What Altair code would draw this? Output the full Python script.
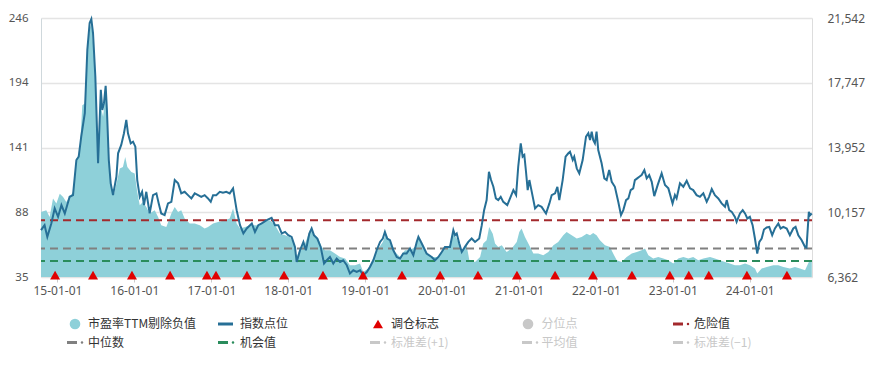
import altair as alt
import pandas as pd

# ---------------- data ----------------
idx_dates = [
    "2014-10-15", "2014-11-01", "2014-11-14", "2014-12-03", "2014-12-19", "2015-01-04", "2015-01-20",
    "2015-02-05", "2015-02-28", "2015-03-16", "2015-04-01", "2015-04-12", "2015-04-24", "2015-05-11",
    "2015-05-23", "2015-06-03", "2015-06-11", "2015-06-19", "2015-06-30", "2015-07-13", "2015-07-26",
    "2015-08-02", "2015-08-10", "2015-08-18", "2015-08-24", "2015-09-02", "2015-09-11", "2015-09-22",
    "2015-10-08", "2015-10-16", "2015-10-31", "2015-11-13", "2015-11-24", "2015-12-02", "2015-12-15",
    "2015-12-26", "2016-01-06", "2016-01-15", "2016-01-27", "2016-02-07", "2016-02-16", "2016-02-27",
    "2016-03-14", "2016-03-30", "2016-04-15", "2016-04-26", "2016-05-08", "2016-05-24", "2016-06-09",
    "2016-06-25", "2016-07-11", "2016-07-27", "2016-08-11", "2016-08-27", "2016-09-12", "2016-09-28",
    "2016-10-14", "2016-10-30", "2016-11-14", "2016-11-30", "2016-12-16", "2016-12-29", "2017-01-09",
    "2017-01-24", "2017-02-10", "2017-02-25", "2017-03-13", "2017-03-29", "2017-04-14", "2017-05-01",
    "2017-05-17", "2017-06-02", "2017-06-18", "2017-07-12", "2017-07-27", "2017-08-12", "2017-08-28",
    "2017-09-21", "2017-10-14", "2017-10-30", "2017-11-15", "2017-12-01", "2017-12-17", "2018-01-01",
    "2018-01-17", "2018-02-02", "2018-02-10", "2018-02-26", "2018-03-14", "2018-03-26", "2018-04-11",
    "2018-04-22", "2018-05-03", "2018-05-19", "2018-06-04", "2018-06-20", "2018-07-03", "2018-07-18",
    "2018-08-03", "2018-08-19", "2018-09-04", "2018-09-19", "2018-10-06", "2018-10-21", "2018-11-06",
    "2018-11-22", "2018-12-08", "2018-12-23", "2019-01-09", "2019-01-24", "2019-02-09", "2019-02-25",
    "2019-03-13", "2019-03-26", "2019-04-05", "2019-04-16", "2019-04-29", "2019-05-15", "2019-05-31",
    "2019-06-16", "2019-07-01", "2019-07-17", "2019-08-02", "2019-08-18", "2019-09-03", "2019-09-11",
    "2019-09-27", "2019-10-20", "2019-11-13", "2019-11-29", "2019-12-15", "2019-12-31", "2020-01-15",
    "2020-02-08", "2020-02-24", "2020-03-03", "2020-03-11", "2020-03-23", "2020-04-04", "2020-04-19",
    "2020-05-05", "2020-05-21", "2020-06-06", "2020-06-26", "2020-07-08", "2020-07-19", "2020-07-31",
    "2020-08-11", "2020-08-21", "2020-09-01", "2020-09-13", "2020-09-24", "2020-10-06", "2020-10-18",
    "2020-11-06", "2020-11-22", "2020-12-05", "2020-12-18", "2020-12-28", "2021-01-09", "2021-01-18",
    "2021-01-26", "2021-02-03", "2021-02-11", "2021-02-19", "2021-02-27", "2021-03-18", "2021-04-02",
    "2021-04-18", "2021-05-09", "2021-05-25", "2021-06-05", "2021-06-21", "2021-07-02", "2021-07-11",
    "2021-07-27", "2021-08-10", "2021-08-23", "2021-08-31", "2021-09-13", "2021-09-20", "2021-10-02",
    "2021-10-14", "2021-10-30", "2021-11-15", "2021-11-26", "2021-12-04", "2021-12-12", "2021-12-19",
    "2021-12-27", "2022-01-04", "2022-01-12", "2022-01-28", "2022-02-10", "2022-02-21", "2022-03-05",
    "2022-03-17", "2022-04-01", "2022-04-17", "2022-04-30", "2022-05-11", "2022-05-24", "2022-06-04",
    "2022-06-15", "2022-06-27", "2022-07-05", "2022-07-16", "2022-07-26", "2022-08-06", "2022-08-19",
    "2022-08-30", "2022-09-11", "2022-09-23", "2022-10-05", "2022-10-21", "2022-11-09", "2022-11-25",
    "2022-12-11", "2022-12-31", "2023-01-11", "2023-01-19", "2023-02-04", "2023-02-20", "2023-03-08",
    "2023-03-24", "2023-04-08", "2023-04-24", "2023-05-10", "2023-05-26", "2023-06-11", "2023-06-22",
    "2023-07-05", "2023-07-20", "2023-08-05", "2023-08-21", "2023-09-06", "2023-09-14", "2023-09-26",
    "2023-10-08", "2023-10-23", "2023-10-31", "2023-11-16", "2023-11-29", "2023-12-10", "2023-12-21",
    "2024-01-02", "2024-01-15", "2024-01-26", "2024-02-06", "2024-02-16", "2024-02-27", "2024-03-09",
    "2024-03-22", "2024-04-03", "2024-04-17", "2024-04-30", "2024-05-16", "2024-05-27", "2024-06-09",
    "2024-06-25", "2024-07-10", "2024-07-26", "2024-08-06", "2024-08-19", "2024-09-04", "2024-09-20",
    "2024-09-27", "2024-10-08", "2024-10-14", "2024-10-22",
]
idx_values = [
    9106, 9400, 8712, 9500, 10380, 9890, 10575,
    10087, 11062, 11160, 13218, 13412, 14587, 15962,
    19680, 21250, 21480, 20660, 18112, 13024, 17330,
    16155, 16550, 17565, 16155, 13218, 11850, 11160,
    12237, 13611, 14100, 14787, 15568, 14787, 14200,
    14293, 14000, 12043, 11062, 11356, 10575, 11356,
    10087, 11160, 11262, 10674, 10087, 9988, 10674,
    10768, 12043, 11850, 11262, 11356, 11160, 10967,
    11262, 11160, 11062, 11160, 10967, 10768, 11160,
    11160, 11356, 11297, 11356, 11262, 11556, 10280,
    9400, 8912, 9205, 9500, 9006, 9400, 9500,
    9693, 9828, 9400, 9400, 8912, 9006, 8812,
    8712, 8125, 7243, 7930, 8418, 7930, 8912,
    9205, 8812, 8618, 8125, 7149, 7343, 7537,
    7149, 7443, 7243, 7343, 7049, 6562, 6755,
    6656, 6755, 6462, 6656, 6950, 7343, 7930,
    8418, 8618, 9006, 8618, 8518, 7930, 7537,
    7443, 7737, 7737, 8030, 7637, 8418, 8712,
    8324, 7737, 7537, 7343, 7537, 7831, 8125,
    8125, 9106, 8812, 8912, 8324, 7831, 8125,
    8418, 8618, 8418, 8618, 9400, 10281, 10868,
    12531, 12043, 11650, 10968, 10868, 11062, 10768,
    10574, 11062, 11456, 11162, 12825, 14199, 13412,
    13512, 12531, 11456, 12043, 11556, 10380, 10574,
    10475, 10087, 10674, 11162, 11262, 11650, 10868,
    12043, 13412, 13612, 13706, 13218, 13412, 12731,
    12437, 13218, 14587, 14787, 14393, 14881, 14393,
    14199, 14881, 13806, 13024, 12143, 12043, 12631,
    11943, 11650, 10768, 9987, 10281, 10868, 10968,
    11456, 11556, 12043, 12143, 12237, 12337, 12631,
    12143, 12337, 11943, 11103, 11749, 12437, 11749,
    11556, 10674, 11162, 10968, 11850, 11650, 12002,
    11556, 11456, 11162, 11062, 11262, 10768, 11062,
    11515, 11162, 10968, 10674, 10475, 10868, 10281,
    10181, 9887, 9593, 10087, 10281, 10087, 9793,
    9887, 9400, 8618, 7737, 8418, 8618, 9147,
    9264, 9300, 8812, 9206, 9499, 9206, 9300,
    9206, 8812, 9206, 9300, 8812, 8518, 8125,
    8089, 10181, 9987, 10087,
]

pe_dates = [
    "2014-10-15", "2014-11-09", "2014-11-25", "2014-12-11", "2014-12-27", "2015-01-12", "2015-01-28",
    "2015-02-12", "2015-02-28", "2015-03-16", "2015-04-01", "2015-04-17", "2015-04-29", "2015-05-11",
    "2015-05-23", "2015-06-03", "2015-06-11", "2015-06-22", "2015-07-05", "2015-07-13", "2015-07-26",
    "2015-08-06", "2015-08-18", "2015-08-26", "2015-09-03", "2015-09-14", "2015-09-27", "2015-10-12",
    "2015-10-24", "2015-11-08", "2015-11-19", "2015-11-29", "2015-12-18", "2016-01-03", "2016-01-15",
    "2016-01-27", "2016-02-11", "2016-02-27", "2016-03-14", "2016-04-07", "2016-04-23", "2016-05-08",
    "2016-06-01", "2016-06-25", "2016-07-11", "2016-07-27", "2016-08-11", "2016-08-27", "2016-09-20",
    "2016-10-14", "2016-11-07", "2016-11-30", "2016-12-16", "2017-01-09", "2017-02-02", "2017-03-05",
    "2017-03-29", "2017-04-14", "2017-05-01", "2017-05-17", "2017-06-10", "2017-07-03", "2017-08-04",
    "2017-09-05", "2017-10-06", "2017-10-30", "2017-11-23", "2017-12-17", "2018-01-09", "2018-01-25",
    "2018-02-10", "2018-02-26", "2018-03-22", "2018-04-14", "2018-04-30", "2018-05-24", "2018-06-09",
    "2018-06-25", "2018-07-18", "2018-08-11", "2018-09-04", "2018-09-28", "2018-10-21", "2018-11-14",
    "2018-12-08", "2018-12-23", "2019-01-16", "2019-02-09", "2019-03-05", "2019-03-26", "2019-04-10",
    "2019-04-29", "2019-05-23", "2019-06-16", "2019-07-09", "2019-08-02", "2019-08-26", "2019-09-11",
    "2019-10-04", "2019-10-20", "2019-11-21", "2019-12-15", "2020-01-07", "2020-02-08", "2020-02-24",
    "2020-03-11", "2020-04-04", "2020-04-27", "2020-05-10", "2020-06-06", "2020-06-30", "2020-07-15",
    "2020-07-31", "2020-08-12", "2020-08-29", "2020-09-09", "2020-09-24", "2020-10-11", "2020-11-03",
    "2020-11-27", "2020-12-21", "2021-01-02", "2021-01-13", "2021-01-29", "2021-02-14", "2021-03-10",
    "2021-04-02", "2021-04-26", "2021-05-20", "2021-06-13", "2021-07-06", "2021-07-30", "2021-08-15",
    "2021-09-08", "2021-10-02", "2021-10-25", "2021-11-18", "2021-12-04", "2021-12-19", "2022-01-04",
    "2022-01-20", "2022-02-13", "2022-03-09", "2022-03-24", "2022-04-10", "2022-05-03", "2022-05-27",
    "2022-06-20", "2022-07-14", "2022-08-06", "2022-08-22", "2022-09-07", "2022-09-30", "2022-10-24",
    "2022-11-17", "2022-12-11", "2023-01-03", "2023-01-27", "2023-02-20", "2023-03-16", "2023-04-08",
    "2023-05-02", "2023-05-26", "2023-06-27", "2023-07-20", "2023-08-13", "2023-09-06", "2023-09-29",
    "2023-10-23", "2023-11-16", "2023-12-10", "2024-01-02", "2024-01-26", "2024-02-06", "2024-02-27",
    "2024-03-22", "2024-04-22", "2024-05-16", "2024-06-09", "2024-07-10", "2024-08-03", "2024-08-27",
    "2024-09-20", "2024-10-08", "2024-10-22",
]
pe_values = [
    88.1, 89.5, 84.0, 99.0, 95.0, 103.0, 100.3,
    96.2, 100.3, 104.4, 131.7, 135.8, 175.2, 176.6,
    220.0, 237.8, 242.0, 220.0, 176.6, 130.3, 173.8,
    165.7, 186.0, 160.3, 124.8, 108.5, 103.0, 114.0,
    123.5, 124.8, 133.0, 124.8, 120.7, 119.4, 104.4,
    93.5, 96.2, 92.2, 86.8, 89.5, 84.0, 77.2,
    75.8, 86.8, 92.2, 88.1, 89.5, 82.7, 78.6,
    78.6, 77.2, 74.5, 75.8, 78.6, 79.9, 81.3,
    82.7, 90.9, 78.6, 74.5, 75.8, 77.2, 77.2,
    79.9, 81.3, 77.2, 70.4, 69.0, 67.7, 63.6,
    51.3, 58.2, 62.3, 73.1, 70.4, 66.4, 59.5,
    56.8, 56.8, 54.1, 51.3, 50.0, 44.6, 44.6,
    46.0, 39.1, 41.9, 50.0, 58.2, 63.6, 70.4,
    63.6, 55.4, 51.3, 56.8, 56.8, 59.5, 67.7,
    59.5, 54.1, 51.3, 51.3, 58.2, 60.9, 70.4,
    66.4, 56.8, 60.9, 48.6, 47.2, 51.3, 62.3,
    65.0, 75.8, 70.4, 62.3, 59.5, 60.9, 55.4,
    58.2, 63.6, 71.7, 74.5, 67.7, 62.3, 54.1,
    54.1, 52.7, 55.4, 60.9, 63.6, 69.0, 71.7,
    69.0, 66.4, 67.7, 70.4, 69.0, 70.9, 69.0,
    65.0, 60.9, 59.5, 54.1, 48.6, 47.2, 51.3,
    54.1, 55.4, 56.8, 58.2, 52.7, 50.0, 51.3,
    50.0, 48.6, 46.0, 50.0, 51.3, 50.0, 51.3,
    48.6, 50.0, 51.3, 50.0, 48.6, 47.2, 46.0,
    44.6, 44.6, 46.0, 44.6, 41.9, 37.8, 41.9,
    43.2, 44.6, 44.6, 43.2, 41.9, 43.2, 41.9,
    40.5, 47.2, 47.2,
]

rebalance_dates = [
    "2014-12-21", "2015-06-19", "2015-12-21", "2016-06-19", "2016-12-11", "2017-01-23",
    "2017-06-19", "2017-12-12", "2018-06-15", "2018-12-22", "2019-06-25", "2019-12-23",
    "2020-06-20", "2020-12-22", "2021-06-21", "2021-12-18", "2022-06-21", "2022-12-18",
    "2023-03-18", "2023-06-21", "2023-12-19", "2024-06-26",
]

danger_value = 81.4
median_value = 58.2
chance_value = 48.1

pe_ticks = [35, 87.85, 140.7, 193.55, 246.4]
idx_ticks = [6362, 10157, 13952, 17747, 21542]

# ---------------- chart ----------------
W, H = 771, 259
CJK = "Noto Sans CJK SC"
LAT = "Noto Sans"
TEAL = "#8ed0d9"
BLUE = "#266f96"
RED = "#a3292c"
GRAY = "#808080"
GREEN = "#2a8c5c"
OFF = "#c8c8c8"

pe_df = pd.DataFrame({"date": pe_dates, "pe": pe_values})
idx_df = pd.DataFrame({"date": idx_dates, "idx": idx_values})
reb_df = pd.DataFrame({"date": rebalance_dates, "flag": "调仓标志"})
ref_df = pd.DataFrame({
    "name": ["危险值", "中位数", "机会值"],
    "v": [danger_value, median_value, chance_value],
})

x_scale = alt.Scale(domain=[alt.DateTime(year=2014, month=10, date=15),
                            alt.DateTime(year=2024, month=10, date=23)])
pe_scale = alt.Scale(domain=[pe_ticks[0], pe_ticks[-1]], nice=False, zero=False)
idx_scale = alt.Scale(domain=[idx_ticks[0], idx_ticks[-1]], nice=False, zero=False)

x_enc = alt.X("date:T", scale=x_scale, title=None,
              axis=alt.Axis(format="%y-%m-%d", tickCount={"interval": "year", "step": 1},
                            grid=False, domain=False, ticks=True, tickSize=5,
                            tickColor="#cccccc", labelPadding=3, labelFont=LAT,
                            labelFontSize=12, labelColor="#555555"))

area = alt.Chart(pe_df).mark_area(color=TEAL, opacity=1, clip=True).encode(
    x=x_enc,
    y=alt.Y("pe:Q", scale=pe_scale, title=None,
            axis=alt.Axis(values=pe_ticks, format=".0f", grid=True, gridColor="#e4e4e4",
                          gridWidth=1.5, domain=True, domainColor="#cfd8dc", ticks=False,
                          labelPadding=13, labelFont=LAT, labelFontSize=11.5,
                          labelColor="#555555")),
)

rules = alt.Chart(ref_df).mark_rule(strokeWidth=2, strokeDash=[8, 5]).encode(
    y=alt.Y("v:Q", scale=pe_scale, axis=None),
    color=alt.Color("name:N", scale=alt.Scale(domain=["危险值", "中位数", "机会值"],
                                              range=[RED, GRAY, GREEN]), legend=None),
)

line = alt.Chart(idx_df).mark_line(color=BLUE, strokeWidth=2).encode(
    x=alt.X("date:T", scale=x_scale),
    y=alt.Y("idx:Q", scale=idx_scale, title=None,
            axis=alt.Axis(orient="right", values=idx_ticks, format=",.0f", grid=False,
                          domain=True, domainColor="#dddddd", ticks=False, labelPadding=15,
                          labelFont=LAT, labelFontSize=12, labelColor="#555555")),
)

tri = alt.Chart(reb_df).mark_point(shape="triangle-up", filled=True, color="#e00000",
                                   size=100, opacity=1).encode(
    x=alt.X("date:T", scale=x_scale),
    y=alt.Y(datum=36.5, scale=pe_scale, axis=None),
)

# ---------------- legend (drawn by hand) ----------------
one = pd.DataFrame({"k": [0]})


def ltext(label, x, y, color):
    return alt.Chart(one).mark_text(text=label, align="left", baseline="middle",
                                    font=CJK, fontSize=12, color=color).encode(
        x=alt.value(x), y=alt.value(y))


def lcircle(x, y, color):
    return alt.Chart(one).mark_point(shape="circle", filled=True, size=113, color=color,
                                     opacity=1).encode(x=alt.value(x), y=alt.value(y))


def ltri(x, y, color):
    return alt.Chart(one).mark_point(shape="triangle-up", filled=True, size=100, color=color,
                                     opacity=1).encode(x=alt.value(x), y=alt.value(y))


def lline(x, y, color):
    return alt.Chart(one).mark_rule(color=color, strokeWidth=3).encode(
        x=alt.value(x), x2=alt.value(x + 15), y=alt.value(y))


def ldashdot(x, y, color):
    dash = alt.Chart(one).mark_rule(color=color, strokeWidth=3).encode(
        x=alt.value(x), x2=alt.value(x + 10), y=alt.value(y))
    dot = alt.Chart(one).mark_point(shape="circle", filled=True, size=6, color=color,
                                    opacity=1).encode(x=alt.value(x + 15), y=alt.value(y))
    return [dash, dot]


r1, r2 = 306, 324.5
legend = [
    lcircle(34, r1, TEAL), ltext("市盈率TTM剔除负值", 47, r1, "#333333"),
    lline(177, r1, BLUE), ltext("指数点位", 199, r1, "#333333"),
    ltri(337, r1, "#e00000"), ltext("调仓标志", 350, r1, "#333333"),
    lcircle(487, r1, OFF), ltext("分位点", 500.5, r1, OFF),
    *ldashdot(632, r1, RED), ltext("危险值", 653, r1, "#333333"),
    *ldashdot(26, r2, GRAY), ltext("中位数", 47, r2, "#333333"),
    *ldashdot(177, r2, GREEN), ltext("机会值", 199, r2, "#333333"),
    *ldashdot(329, r2, OFF), ltext("标准差(+1)", 350, r2, OFF),
    *ldashdot(481, r2, OFF), ltext("平均值", 500.5, r2, OFF),
    *ldashdot(632, r2, OFF), ltext("标准差(−1)", 653, r2, OFF),
]

chart = alt.layer(area, rules, line, tri, *legend).resolve_scale(
    y="independent"
).properties(
    width=W, height=H,
    autosize=alt.AutoSizeParams(type="none"),
    padding={"left": 33, "top": 10, "right": 55, "bottom": 78},
).configure_view(stroke=None)

chart.save("out.html", embed_options={"renderer": "svg", "actions": False})
